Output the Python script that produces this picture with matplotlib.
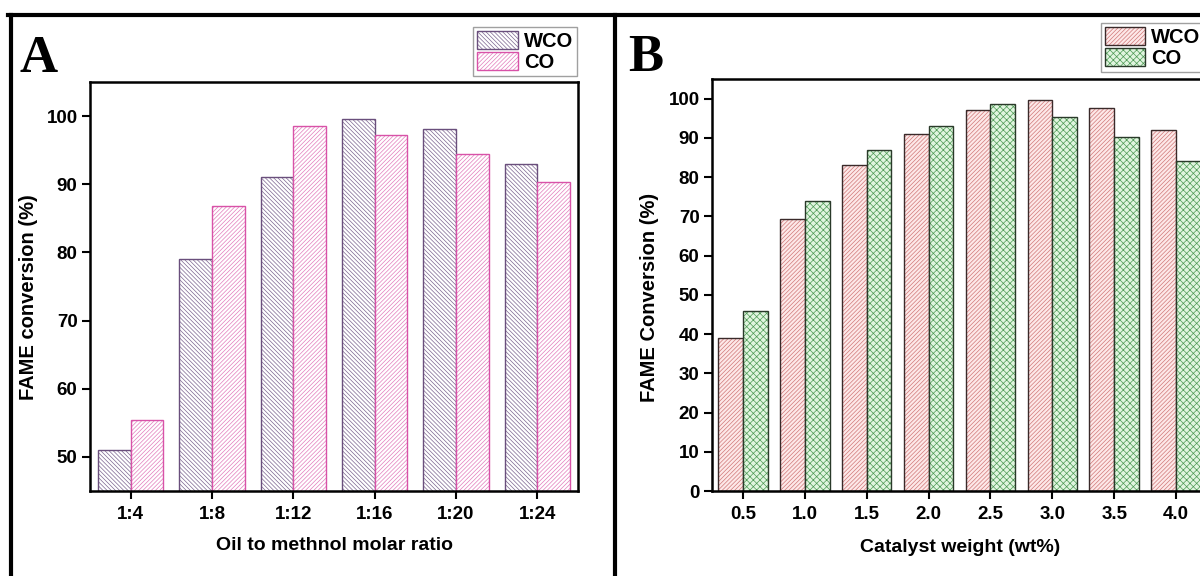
import numpy as np
import matplotlib
matplotlib.use("Agg")
import matplotlib.pyplot as plt
from matplotlib.lines import Line2D

plt.rcParams['font.family'] = ['Liberation Sans', 'DejaVu Sans']
plt.rcParams['font.weight'] = 'bold'
plt.rcParams['hatch.linewidth'] = 0.5

# panel A: oil to methanol molar ratio
ratio_labels = ['1:4', '1:8', '1:12', '1:16', '1:20', '1:24']
wco_ratio = [51.0, 79.1, 91.0, 99.6, 98.1, 93.0]
co_ratio = [55.4, 86.8, 98.5, 97.2, 94.4, 90.3]

# panel B: catalyst weight
catalyst_wt = [0.5, 1.0, 1.5, 2.0, 2.5, 3.0, 3.5, 4.0]
wco_cat = [38.9, 69.4, 83.1, 90.9, 97.1, 99.6, 97.5, 92.0]
co_cat = [46.0, 74.0, 87.0, 93.0, 98.6, 95.3, 90.3, 84.0]

W, H = 1200, 576
fig = plt.figure(figsize=(W / 100, H / 100), dpi=100)


def px_axes(l, t, r, b):
    return fig.add_axes([l / W, 1 - b / H, (r - l) / W, (b - t) / H])


def hatched_bar(ax, x, h, width, fill, hatchcol, hatch, edge):
    # hatch layer then outline layer, so hatch and edge can differ in colour
    b1 = ax.bar(x, h, width, color=fill, edgecolor=hatchcol, hatch=hatch, linewidth=0)
    b2 = ax.bar(x, h, width, fill=False, edgecolor=edge, linewidth=1.0)
    return (b1[0], b2[0])


def style(ax):
    for s in ax.spines.values():
        s.set_linewidth(1.8)
    ax.tick_params(direction='out', length=6, width=1.5, labelsize=13.5)
    ax.tick_params(axis='x', pad=5)
    ax.tick_params(axis='y', pad=3)
    for lab in ax.get_xticklabels() + ax.get_yticklabels():
        lab.set_fontweight('bold')


# ---- panel A
axA = px_axes(90, 82, 578, 491)
x = np.arange(len(ratio_labels))
hA1 = hatched_bar(axA, x - 0.2, wco_ratio, 0.4, 'white', '#7d6690', '\\' * 8, '#6a4f7c')
hA2 = hatched_bar(axA, x + 0.2, co_ratio, 0.4, 'white', '#e27cbc', '/' * 8, '#d852a8')
axA.set_xlim(-0.5, 5.5)
axA.set_ylim(45, 105)
axA.set_xticks(x)
axA.set_xticklabels(ratio_labels)
axA.set_yticks(np.arange(50, 101, 10))
style(axA)

# ---- panel B (runs past the right edge, like the cropped original)
axB = px_axes(712, 79, 1207, 491)
wt = np.array(catalyst_wt)
hB1 = hatched_bar(axB, wt - 0.1, wco_cat, 0.2, '#fde8e8', '#d07878', '/' * 8, '#3a2a2a')
hB2 = hatched_bar(axB, wt + 0.1, co_cat, 0.2, '#e0f5df', '#4e9a55', 'x' * 5, '#2a3a2a')
axB.set_xlim(0.25, 4.25)
axB.set_ylim(0, 105)
axB.set_xticks(wt)
axB.set_xticklabels([f'{v:.1f}' for v in catalyst_wt])
axB.set_yticks(np.arange(0, 101, 10))
style(axB)

# axis titles
fig.text(334 / W, 1 - 545 / H, 'Oil to methnol molar ratio', ha='center', va='center',
         fontsize=14, fontweight='bold')
fig.text(29 / W, 1 - 297 / H, 'FAME conversion (%)', ha='center', va='center',
         rotation=90, fontsize=14.5, fontweight='bold')
fig.text(960 / W, 1 - 547 / H, 'Catalyst weight (wt%)', ha='center', va='center',
         fontsize=14, fontweight='bold')
fig.text(649 / W, 1 - 297 / H, 'FAME Conversion (%)', ha='center', va='center',
         rotation=90, fontsize=14.5, fontweight='bold')

# panel letters
fig.text(20 / W, 1 - 72 / H, 'A', fontsize=38, fontweight='bold',
         family=['Liberation Serif', 'DejaVu Serif'], va='baseline')
fig.text(628 / W, 1 - 71 / H, 'B', fontsize=38, fontweight='bold',
         family=['Liberation Serif', 'DejaVu Serif'], va='baseline')

# legends
leg_kw = dict(frameon=True, fancybox=False, borderaxespad=0,
              handlelength=2.0, handleheight=1.0, labelspacing=0.05,
              handletextpad=0.3, borderpad=0.2, prop={'weight': 'bold', 'size': 14.5})
legA = fig.legend([hA1, hA2], ['WCO', 'CO'], loc='upper right',
                  bbox_to_anchor=(577 / W, 1 - 27 / H), **leg_kw)
legB = fig.legend([hB1, hB2], ['WCO', 'CO'], loc='upper left',
                  bbox_to_anchor=(1101 / W, 1 - 23 / H), **leg_kw)
for lg in (legA, legB):
    lg.get_frame().set_edgecolor('#888888')
    lg.get_frame().set_linewidth(1.0)

# outer panel frame lines
frame = dict(color='black', linewidth=3, transform=fig.transFigure)
fig.add_artist(Line2D([8 / W, 1], [1 - 15 / H] * 2, **frame))
fig.add_artist(Line2D([11 / W] * 2, [1 - 15 / H, 0], **frame))
fig.add_artist(Line2D([615 / W] * 2, [1 - 15 / H, 0], **frame))

fig.savefig('out.png', dpi=100)
